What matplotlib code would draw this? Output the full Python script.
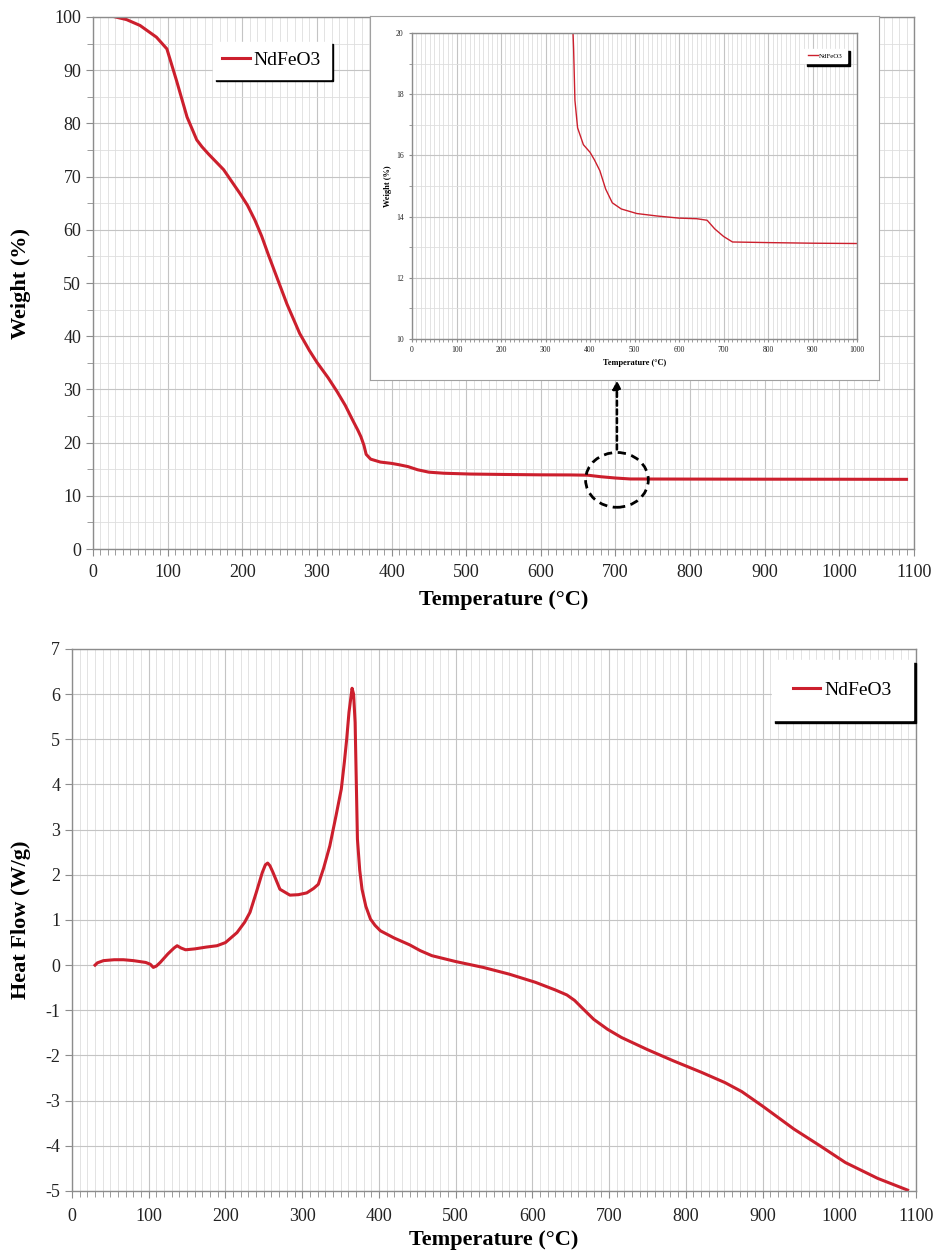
import matplotlib.pyplot as plt
from matplotlib.patches import Ellipse
from matplotlib.ticker import MultipleLocator

plt.rcParams['font.family'] = ['Liberation Serif', 'DejaVu Serif']
plt.rcParams['axes.unicode_minus'] = False

# TGA curve (weight loss)
temp_tga = [30, 45, 63, 85, 99, 112, 126, 139, 146, 155, 175, 197, 207, 217,
            226, 235, 246, 260, 277, 290, 300, 315, 327, 338, 348, 355, 359,
            363, 366, 372, 385, 400, 410, 422, 435, 450, 470, 505, 550, 600,
            640, 663, 680, 700, 720, 800, 900, 1000, 1090]
weight = [100, 99.5, 98.4, 96.2, 94, 88, 81.2, 76.9, 75.6, 74.2, 71.3, 66.8,
          64.6, 61.8, 58.8, 55.3, 51.2, 46.0, 40.5, 37.3, 35.1, 32.2, 29.6,
          27.0, 24.2, 22.3, 21.1, 19.5, 17.8, 16.9, 16.35, 16.1, 15.85, 15.5,
          14.9, 14.45, 14.25, 14.1, 14.02, 13.95, 13.93, 13.88, 13.6, 13.35,
          13.17, 13.15, 13.13, 13.12, 13.1]

# DSC curve (heat flow)
temp_dsc = [30, 33, 41, 55, 67, 80, 96, 102, 106, 110, 115, 125, 133, 137,
            142, 148, 160, 175, 189, 200, 215, 225, 232, 240, 248, 252, 255,
            258, 262, 271, 284, 295, 306, 315, 321, 328, 336, 344, 351, 355,
            358, 361, 365, 367, 369, 372, 375, 378, 383, 389, 395, 402, 420,
            440, 454, 469, 500, 536, 570, 604, 630, 645, 655, 665, 680, 698,
            716, 750, 784, 820, 851, 873, 900, 941, 975, 1008, 1050, 1089]
heat_flow = [0.0, 0.05, 0.1, 0.12, 0.12, 0.1, 0.06, 0.02, -0.05, -0.02, 0.06,
             0.25, 0.38, 0.43, 0.38, 0.34, 0.36, 0.4, 0.43, 0.5, 0.72, 0.95,
             1.17, 1.6, 2.05, 2.22, 2.26, 2.2, 2.05, 1.68, 1.55, 1.56, 1.6,
             1.7, 1.79, 2.15, 2.64, 3.3, 3.9, 4.5, 5.0, 5.6, 6.13, 6.0, 5.37,
             2.79, 2.1, 1.68, 1.3, 1.02, 0.88, 0.76, 0.6, 0.45, 0.32, 0.21,
             0.08, -0.05, -0.2, -0.38, -0.55, -0.66, -0.78, -0.95, -1.2,
             -1.42, -1.6, -1.87, -2.12, -2.37, -2.6, -2.8, -3.12, -3.63, -4.0,
             -4.37, -4.72, -4.98]

label = 'NdFeO3'
red = '#cc1f2d'
spine_c = '#8c8c8c'


def style_axes(ax, fs, tick_len=5, pad=3.5):
    for s in ax.spines.values():
        s.set_color(spine_c)
        s.set_linewidth(1)
    ax.set_axisbelow(True)
    ax.grid(which='major', color='#c4c4c4', lw=0.8)
    ax.grid(which='minor', color='#dedede', lw=0.6)
    ax.tick_params(which='both', direction='out', color=spine_c)
    ax.tick_params(which='major', length=tick_len)
    ax.tick_params(which='minor', length=tick_len * 0.8)
    ax.tick_params(labelsize=fs, labelcolor='#222222')
    ax.tick_params(axis='x', pad=pad)


def add_legend(ax, fs, **kw):
    leg = ax.legend(fontsize=fs, fancybox=False, framealpha=1,
                    edgecolor='white', handlelength=1.4, handletextpad=0.2,
                    shadow={'color': 'black', 'alpha': 1}, **kw)
    return leg


fig = plt.figure(figsize=(9.45, 12.55), dpi=100)

# ---- top: TGA ----
ax1 = fig.add_axes([0.0984, 0.5625, 0.8688, 0.424])
ax1.plot(temp_tga, weight, color=red, lw=2.2, label=label)
ax1.set_xlim(0, 1100)
ax1.set_ylim(0, 100)
ax1.xaxis.set_major_locator(MultipleLocator(100))
ax1.xaxis.set_minor_locator(MultipleLocator(10))
ax1.yaxis.set_major_locator(MultipleLocator(10))
ax1.yaxis.set_minor_locator(MultipleLocator(5))
style_axes(ax1, 13, pad=6)
ax1.set_xlabel('Temperature (°C)', fontsize=16, fontweight='bold', labelpad=6)
ax1.set_ylabel('Weight (%)', fontsize=16, fontweight='bold', labelpad=17)
add_legend(ax1, 14, loc='upper left', bbox_to_anchor=(0.134, 0.972),
           borderpad=0.5)

# zoom marker: dashed circle + arrow up to the inset
zoom_center = (702, 13.0)
ax1.add_patch(Ellipse(zoom_center, 84, 10.3, fill=False, ec='black',
                      ls=(0, (3, 2)), lw=2, zorder=5))
ax1.annotate('', xy=(702, 32.2), xytext=(702, 18.2),
             arrowprops=dict(arrowstyle='-|>', color='black', lw=1.8,
                             ls=(0, (2, 1.5)), mutation_scale=12))

# inset background box
bg = fig.add_axes([0.3915, 0.697, 0.5385, 0.290])
bg.set_xticks([])
bg.set_yticks([])
for s in bg.spines.values():
    s.set_color('#a0a0a0')
bg.set_zorder(2)

ins = fig.add_axes([0.436, 0.7299, 0.471, 0.2438])
ins.set_zorder(3)
ins.plot(temp_tga, weight, color=red, lw=1.0, label=label)
ins.set_xlim(0, 1000)
ins.set_ylim(10, 20)
ins.xaxis.set_major_locator(MultipleLocator(100))
ins.xaxis.set_minor_locator(MultipleLocator(10))
ins.yaxis.set_major_locator(MultipleLocator(2))
ins.yaxis.set_minor_locator(MultipleLocator(1))
style_axes(ins, 5.5, tick_len=2.5, pad=2.5)
ins.set_xlabel('Temperature (°C)', fontsize=6, fontweight='bold', labelpad=4)
ins.set_ylabel('Weight (%)', fontsize=6, fontweight='bold', labelpad=3)
add_legend(ins, 5, loc='upper right', bbox_to_anchor=(0.985, 0.96),
           borderpad=0.6)

# ---- bottom: DSC ----
ax2 = fig.add_axes([0.0762, 0.0510, 0.8931, 0.4319])
ax2.plot(temp_dsc, heat_flow, color=red, lw=2.2, label=label)
ax2.set_xlim(0, 1100)
ax2.set_ylim(-5, 7)
ax2.xaxis.set_major_locator(MultipleLocator(100))
ax2.xaxis.set_minor_locator(MultipleLocator(10))
ax2.yaxis.set_major_locator(MultipleLocator(1))
style_axes(ax2, 13, pad=7)
ax2.set_xlabel('Temperature (°C)', fontsize=16, fontweight='bold', labelpad=4)
ax2.set_ylabel('Heat Flow (W/g)', fontsize=16, fontweight='bold', labelpad=10)
add_legend(ax2, 14, loc='upper right', bbox_to_anchor=(1.008, 0.998),
           borderpad=1.1)

fig.savefig('out.png', dpi=100)
